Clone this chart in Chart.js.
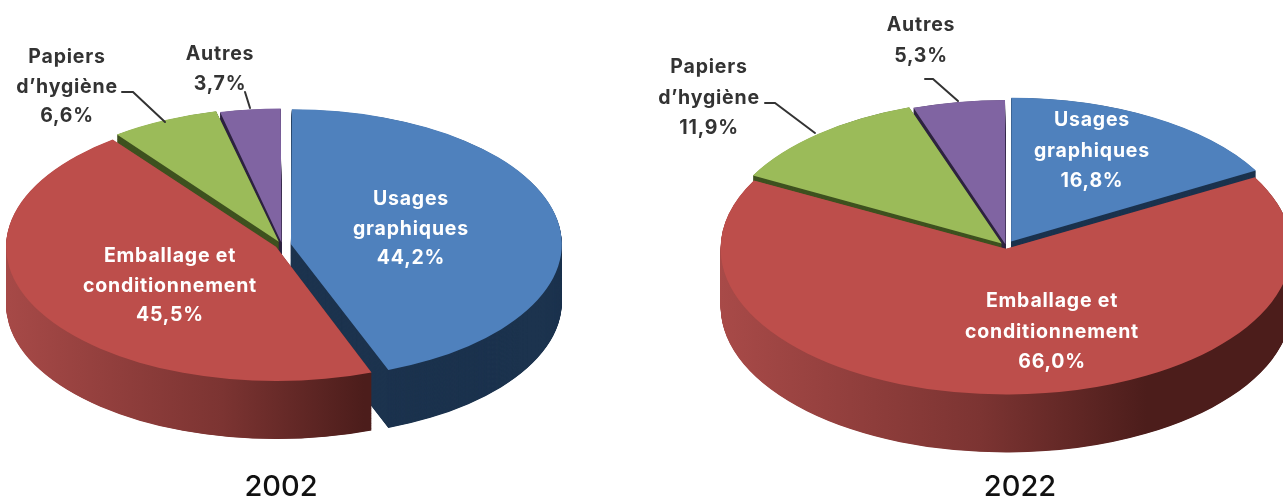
<!DOCTYPE html>
<html><head><meta charset="utf-8">
<style>
html,body{margin:0;padding:0;background:#fff;overflow:hidden;width:1283px;height:498px}
.box{position:absolute;top:0;height:498px;overflow:hidden}
#b1{left:0;width:640px}#b2{left:640px;width:643px}
canvas{display:block;filter:blur(.45px)}
</style>
<script src="https://cdn.jsdelivr.net/npm/chart.js@4"></script>
</head><body>
<div class="box" id="b1"><canvas id="c1" width="640" height="498"></canvas></div>
<div class="box" id="b2"><canvas id="c2" width="643" height="498"></canvas></div>
<script>
const categories = ['Usages graphiques', 'Emballage et conditionnement', "Papiers d’hygiène", 'Autres'];
const values2002 = [44.2, 45.5, 6.6, 3.7];
const values2022 = [16.8, 66.0, 11.9, 5.3];
const years = ['2002', '2022'];
const labelLines = [['Usages', 'graphiques'], ['Emballage et', 'conditionnement'], ['Papiers', "d’hygiène"], ['Autres']];

const topColors = ['#4F81BD', '#BD4E4B', '#9BBB59', '#8064A2'];
const wallColors = ['#1C334E', null, '#3F5220', '#2E2340'];
const labelColors = ['#fff', '#fff', '#333', '#333'];
const redStops = [[0, '#A84A48'], [0.5, '#7C3432'], [0.82, '#4C1D1B'], [1, '#4C1D1B']];

const layouts = [
  { cx: 282, cy: 245, rx: 265, ry: 132, depth: 58, offsets: [32, 24, 26, 18], yearX: 281, lineGap: 29.8,
    gradX: [5, 450],
    labels: [[411, 199], [170, 256], [67, 57], [220, 54]],
    leaders: [null, null, [[122, 92], [133, 92], [165, 122]], [[245, 92], [250, 108]]] },
  { cx: 366, cy: 246, rx: 280, ry: 143, depth: 58, offsets: [34, 18, 22, 12], yearX: 380, lineGap: 30.8,
    gradX: [80, 600],
    labels: [[452, 120], [412, 301], [69, 67], [281, 25]],
    leaders: [null, null, [[125, 103], [135, 103], [175, 133]], [[285, 79], [293, 79], [318, 101]]] }
];

const labelFont = '700 19.5px Inter';

const pie3d = {
  id: 'pie3d',
  beforeDatasetsDraw(chart, args, o) {
    const ctx = chart.ctx, arcs = chart.getDatasetMeta(0).data;
    const R = arcs[0].outerRadius, sx = o.rx / R, sy = o.ry / R, d = o.depth / sy;
    ctx.save();
    ctx.translate(o.cx, o.cy);
    ctx.scale(sx, sy);
    ctx.translate(-arcs[0].x, -arcs[0].y);
    const order = arcs.map((a, i) => i).sort((p, q) => {
      const m = a => Math.sin((a.startAngle + a.endAngle) / 2);
      return m(arcs[p]) - m(arcs[q]);
    });
    for (const i of order) {
      const a = arcs[i];
      let fill = wallColors[i];
      if (!fill) {
        const g = ctx.createLinearGradient((o.gradX[0] - o.cx) / sx + a.x, 0, (o.gradX[1] - o.cx) / sx + a.x, 0);
        redStops.forEach(s => g.addColorStop(s[0], s[1]));
        fill = g;
      }
      // the wall is the library's own arc element, repeated downwards
      const ghost = Object.create(a);
      ghost.options = { backgroundColor: fill, borderColor: fill, borderWidth: 0, borderAlign: 'center', borderJoinStyle: 'round',
        borderRadius: 0, spacing: 0, circular: true, offset: o.offsets[i] };
      for (let k = d; k > 0; k -= 0.8) {
        ctx.save();
        ctx.translate(0, k);
        ghost.draw(ctx);
        ctx.restore();
      }
    }
  },
  afterDatasetsDraw(chart, args, o) {
    const ctx = chart.ctx;
    ctx.restore();
    const values = chart.data.datasets[0].data;
    ctx.textAlign = 'center';
    ctx.textBaseline = 'middle';
    ctx.strokeStyle = '#333';
    ctx.lineWidth = 2;
    ctx.lineCap = 'round';
    o.leaders.forEach(l => {
      if (!l) return;
      ctx.beginPath();
      l.forEach((p, i) => i ? ctx.lineTo(p[0], p[1]) : ctx.moveTo(p[0], p[1]));
      ctx.stroke();
    });
    ctx.font = labelFont;
    ctx.letterSpacing = '0.8px';
    o.labels.forEach((p, i) => {
      ctx.fillStyle = labelColors[i];
      const lines = labelLines[i].concat(values[i].toFixed(1).replace('.', ',') + '%');
      lines.forEach((t, j) => ctx.fillText(t, p[0], p[1] + j * o.lineGap));
    });
    ctx.letterSpacing = '0px';
    ctx.fillStyle = '#111';
    ctx.font = '500 29px Inter';
    ctx.fillText(o.year, o.yearX, 487);
  }
};

function makeChart(id, values, layout, year) {
  return new Chart(document.getElementById(id), {
    type: 'pie',
    plugins: [pie3d],
    data: { labels: categories, datasets: [{ data: values, backgroundColor: topColors, borderWidth: 0, offset: layout.offsets, clip: false }] },
    options: {
      responsive: false, animation: false, events: [],
      plugins: { legend: { display: false }, tooltip: { enabled: false }, title: { display: false },
        pie3d: Object.assign({ year }, layout) }
    }
  });
}
makeChart('c1', values2002, layouts[0], years[0]);
makeChart('c2', values2022, layouts[1], years[1]);
</script>
</body></html>
